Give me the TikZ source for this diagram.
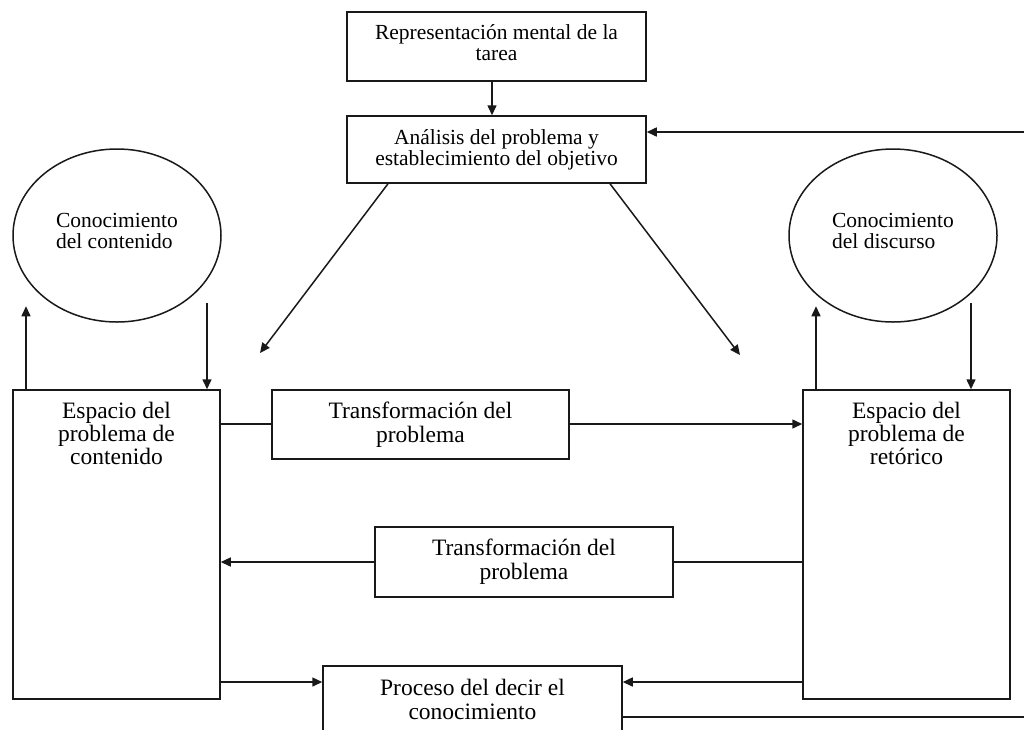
\documentclass[tikz,border=0pt]{standalone}
\usepackage{fontspec}
\setmainfont{Liberation Serif}
\usetikzlibrary{arrows.meta,shapes.geometric}
\colorlet{ink}{black!90}
\begin{document}
\begin{tikzpicture}[x=1pt,y=-1pt,
  line width=1.5pt,
  ln/.style={draw=ink},
  arr/.style={draw=ink,-{Triangle[length=10pt,width=9pt]}},
  box/.style={draw=ink, rectangle, align=center, inner sep=0pt},
  small/.style={font=\fontsize{21.5}{21}\selectfont},
  big/.style={font=\fontsize{23.5}{24}\selectfont},
  know/.style={draw=ink, ellipse, minimum width=208pt, minimum height=173pt,
               align=left, inner sep=0pt, small},
  space/.style={box, minimum width=207pt, minimum height=309pt},
  head/.style={big, align=center, anchor=north, inner sep=0pt, yshift=-12pt,
               font=\fontsize{23.5}{23}\selectfont},
]
\useasboundingbox (0,0) rectangle (1024,729);
\clip (0,0) rectangle (1024,729);

% task representation and goal setting
\node[box, small, minimum width=299pt, minimum height=69pt] (rep) at (496.5,46.5)
  {Representación mental de la\\tarea\\[-13pt]};
\node[box, small, minimum width=299pt, minimum height=67pt] (ana) at (496.5,149.5)
  {Análisis del problema y\\establecimiento del objetivo};

% knowledge stores
\node[know] (ck) at (117,235.5) {Conocimiento\\del contenido\\[-11pt]};
\node[know] (dk) at (893,235.5) {Conocimiento\\del discurso\\[-11pt]};

% problem spaces
\node[space, label={[head]north:Espacio del\\problema de\\contenido}] (lsp) at (116.5,544.5) {};
\node[space, label={[head]north:Espacio del\\problema de\\retórico}] (rsp) at (906.5,544.5) {};

% transformations
\node[box, big, minimum width=297pt, minimum height=69pt] (t1) at (420.5,424.5)
  {Transformación del\\problema};
\node[box, big, minimum width=298pt, minimum height=70pt] (t2) at (524,562)
  {Transformación del\\problema};

% knowledge telling
\node[box, big, minimum width=299pt, minimum height=68pt, anchor=north] (proc) at (472.5,665)
  {Proceso del decir el\\conocimiento};

% free ends
\coordinate (edge) at (1024,0);
\coordinate (fbin) at (1024,132);
\coordinate (dl) at (260,353);
\coordinate (dr) at (740,355);
\coordinate (cdown) at (207,303);
\coordinate (ddown) at (971,303);

% connectors
\draw[arr] ([xshift=-4.5pt]rep.south) -- ([xshift=-4.5pt]ana.north);
\draw[arr] (fbin) -- (fbin -| ana.east);
\draw[arr] ([xshift=-108.5pt]ana.south) -- (dl);
\draw[arr] ([xshift=113.5pt]ana.south) -- (dr);

\draw[arr] ([xshift=-90.5pt]lsp.north) -- ++(0,-83);
\draw[arr] (cdown) -- (cdown |- lsp.north);
\draw[arr] ([xshift=-90.5pt]rsp.north) -- ++(0,-83);
\draw[arr] (ddown) -- (ddown |- rsp.north);

\draw[ln] ([yshift=0.5pt]t1.west -| lsp.east) -- ([yshift=0.5pt]t1.west);
\draw[arr] ([yshift=0.5pt]t1.east) -- ([yshift=0.5pt]t1.east -| rsp.west);
\draw[ln] (t2.east -| rsp.west) -- (t2.east);
\draw[arr] (t2.west) -- (t2.west -| lsp.east);

\coordinate (pw) at ([yshift=-17pt]proc.north west);
\coordinate (pe) at ([yshift=-17pt]proc.north east);
\coordinate (po) at ([yshift=-52pt]proc.north east);
\draw[arr] (pw -| lsp.east) -- (pw);
\draw[arr] (pe -| rsp.west) -- (pe);
\draw[ln] (po) -- (po -| edge);
\end{tikzpicture}
\end{document}
